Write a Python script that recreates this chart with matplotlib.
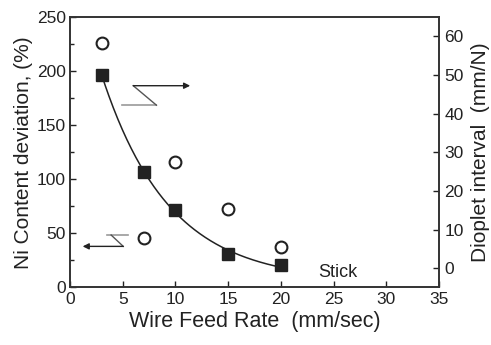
import numpy as np
import matplotlib
matplotlib.use('Agg')
import matplotlib.pyplot as plt
from matplotlib.ticker import MultipleLocator

plt.rcParams['font.family'] = ['Liberation Sans', 'DejaVu Sans']

# Data
feed_rate = [3, 7, 10, 15, 20]
ni_deviation = [226, 46, 116, 73, 37]        # open circles, left axis (%)
droplet_interval = [50, 25, 15, 3.7, 0.7]    # filled squares, right axis (mm/N)

x_label = 'Wire Feed Rate  (mm/sec)'
left_label = 'Ni Content deviation, (%)'
right_label = 'Dioplet interval  (mm/N)'

ink = '#222222'


def exp_fit(x, y):
    # y = c + a*exp(-b*x), b by grid search, a and c by least squares
    x = np.asarray(x, float)
    y = np.asarray(y, float)
    best = None
    for b in np.linspace(0.01, 1.0, 500):
        A = np.column_stack([np.exp(-b * x), np.ones_like(x)])
        sol, res, _, _ = np.linalg.lstsq(A, y, rcond=None)
        err = np.sum((A @ sol - y) ** 2)
        if best is None or err < best[0]:
            best = (err, b, sol)
    _, b, (a, c) = best
    return lambda t: c + a * np.exp(-b * t)


fig = plt.figure(figsize=(4.91, 3.45), dpi=100)
ax = fig.add_axes([0.1426, 0.1667, 0.7514, 0.784])
ax2 = ax.twinx()

# circles on the left axis
ax.plot(feed_rate, ni_deviation, 'o', ms=8.5, mfc='white', mec=ink, mew=1.5,
        zorder=3)

# squares + fitted curve on the right axis
fit = exp_fit(feed_rate, droplet_interval)
xs = np.linspace(min(feed_rate), max(feed_rate), 200)
ax2.plot(xs, fit(xs), color=ink, lw=1.1, zorder=2)
ax2.plot(feed_rate, droplet_interval, 's', ms=8.5, color=ink, zorder=3)

ax.set_xlim(0, 35)
ax.set_ylim(0, 250)
ax2.set_ylim(-5, 65)

ax.xaxis.set_major_locator(MultipleLocator(5))
ax.yaxis.set_major_locator(MultipleLocator(50))
ax.yaxis.set_minor_locator(MultipleLocator(25))
ax2.set_yticks(range(0, 61, 10))

ax.tick_params(axis='both', which='major', direction='in', length=4,
               width=1, labelsize=12.5, colors=ink, pad=3)
ax.tick_params(axis='y', which='minor', direction='in', length=3, width=1,
               colors=ink)
ax.tick_params(axis='x', top=False)
ax2.tick_params(axis='y', which='major', direction='in', length=4, width=1,
                labelsize=12.5, colors=ink, pad=4)

for a in (ax, ax2):
    for s in a.spines.values():
        s.set_color('#333333')
        s.set_linewidth(1.2)

ax.set_xlabel(x_label, fontsize=15.5, color=ink, labelpad=3)
ax.set_ylabel(left_label, fontsize=15, color=ink, labelpad=3)
ax2.set_ylabel(right_label, fontsize=15, color=ink, labelpad=5)

# zig-zag arrows pointing to the right and left axes
gray = '#999999'
ax.plot([4.9, 8.2], [168.5, 168.5], color=gray, lw=1.2)
ax.plot([8.2, 6.0], [168.5, 186.5], color='#555555', lw=1.0)
ax.annotate('', xy=(11.4, 186.5), xytext=(6.0, 186.5),
            arrowprops=dict(arrowstyle='-|>', color=ink, lw=1.0,
                            mutation_scale=9, shrinkA=0, shrinkB=0))
ax.plot([3.5, 5.5], [48.5, 48.5], color=gray, lw=1.2)
ax.plot([3.9, 5.05], [48.5, 38.0], color='#555555', lw=1.0)
ax.annotate('', xy=(1.2, 38.0), xytext=(5.05, 38.0),
            arrowprops=dict(arrowstyle='-|>', color=ink, lw=1.0,
                            mutation_scale=9, shrinkA=0, shrinkB=0))

ax.text(25.4, 14, 'Stick', fontsize=13, color=ink, ha='center',
        va='center')

fig.savefig('out.png', dpi=100)
